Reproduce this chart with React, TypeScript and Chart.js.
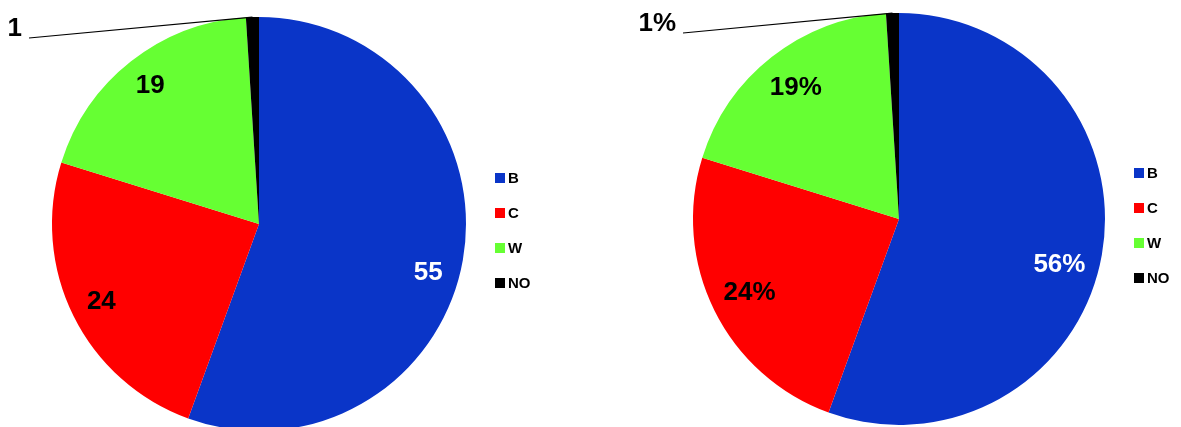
import React, { useEffect, useRef } from "react";
import { Chart, registerables } from "chart.js";

Chart.register(...registerables);

const categories = ["B", "C", "W", "NO"];
const values = [55, 24, 19, 1];
const colors = ["#0a35c8", "#ff0000", "#66ff33", "#000000"];
const textColors = ["#ffffff", "#000000", "#000000", "#000000"];

const total = values.reduce((a, b) => a + b, 0);
const labelsLeft = values.map((v) => String(v));
const labelsRight = values.map((v) => `${Math.round((v / total) * 100)}%`);

const FONT = "'Liberation Sans', Arial, sans-serif";

type Cfg = {
  labels: string[];
  padding: { left: number; right: number; top: number; bottom: number };
  labelFrac: number;
  firstLabelShift: number;
  outside: { dx: number; dy: number };
  legend: { x: number; y: number; gap: number; box: number };
};

function makePlugin(cfg: Cfg) {
  return {
    id: "customLabels",
    afterDraw(chart: any) {
      const ctx = chart.ctx;
      const meta = chart.getDatasetMeta(0);
      ctx.save();
      meta.data.forEach((arc: any, i: number) => {
        const { x, y, startAngle, endAngle, outerRadius } = arc.getProps(
          ["x", "y", "startAngle", "endAngle", "outerRadius"],
          true
        );
        let mid = (startAngle + endAngle) / 2;
        const text = cfg.labels[i];
        ctx.font = `bold 26px ${FONT}`;
        if (endAngle - startAngle > 0.2) {
          if (i === 0) mid += cfg.firstLabelShift;
          const r = outerRadius * cfg.labelFrac;
          ctx.fillStyle = textColors[i];
          ctx.textAlign = "center";
          ctx.textBaseline = "middle";
          ctx.fillText(text, x + Math.cos(mid) * r, y + Math.sin(mid) * r);
        } else {
          const lx = x + cfg.outside.dx;
          const ly = y + cfg.outside.dy;
          ctx.fillStyle = "#000";
          ctx.textAlign = "right";
          ctx.textBaseline = "middle";
          ctx.fillText(text, lx, ly);
          ctx.beginPath();
          ctx.strokeStyle = "#000";
          ctx.lineWidth = 1.2;
          ctx.moveTo(lx + 7, ly + 9);
          ctx.lineTo(x + Math.cos(mid) * outerRadius, y + Math.sin(mid) * outerRadius);
          ctx.stroke();
        }
      });
      const lg = cfg.legend;
      categories.forEach((c, i) => {
        const cy = lg.y + i * lg.gap;
        ctx.fillStyle = colors[i];
        ctx.fillRect(lg.x, cy - lg.box / 2, lg.box, lg.box);
        ctx.fillStyle = "#000";
        ctx.font = `bold 15px ${FONT}`;
        ctx.textAlign = "left";
        ctx.textBaseline = "middle";
        ctx.fillText(c, lg.x + lg.box + 3, cy + 1);
      });
      ctx.restore();
    },
  };
}

function PieChart({ cfg, width, height, left }: { cfg: Cfg; width: number; height: number; left: number }) {
  const ref = useRef<HTMLCanvasElement | null>(null);
  useEffect(() => {
    if (!ref.current) return;
    const chart = new Chart(ref.current, {
      type: "pie",
      data: {
        labels: categories,
        datasets: [
          {
            data: values,
            backgroundColor: colors,
            borderWidth: 0,
          },
        ],
      },
      options: {
        responsive: false,
        animation: false,
        layout: { padding: cfg.padding },
        plugins: {
          legend: { display: false },
          tooltip: { enabled: false },
        },
      },
      plugins: [makePlugin(cfg)],
    });
    return () => chart.destroy();
  }, [cfg]);
  return (
    <canvas
      ref={ref}
      width={width}
      height={height}
      style={{ position: "absolute", left, top: 0, width, height }}
    />
  );
}

const DEG = Math.PI / 180;

const leftCfg: Cfg = {
  labels: labelsLeft,
  padding: { left: 52, right: 124, top: 17, bottom: 29 },
  labelFrac: 0.85,
  firstLabelShift: 6 * DEG,
  outside: { dx: -237, dy: -195 },
  legend: { x: 495, y: 178, gap: 35, box: 10 },
};

const rightCfg: Cfg = {
  labels: labelsRight,
  padding: { left: 103, right: 76, top: 13, bottom: 35 },
  labelFrac: 0.81,
  firstLabelShift: 6 * DEG,
  outside: { dx: -223, dy: -195 },
  legend: { x: 1134 - 590, y: 173, gap: 35, box: 10 },
};

export default function App() {
  return (
    <div
      style={{
        position: "fixed",
        left: 0,
        top: 0,
        width: 1181,
        height: 427,
        overflow: "hidden",
        background: "#fff",
      }}
    >
      <PieChart cfg={leftCfg} width={590} height={460} left={0} />
      <PieChart cfg={rightCfg} width={591} height={460} left={590} />
    </div>
  );
}
